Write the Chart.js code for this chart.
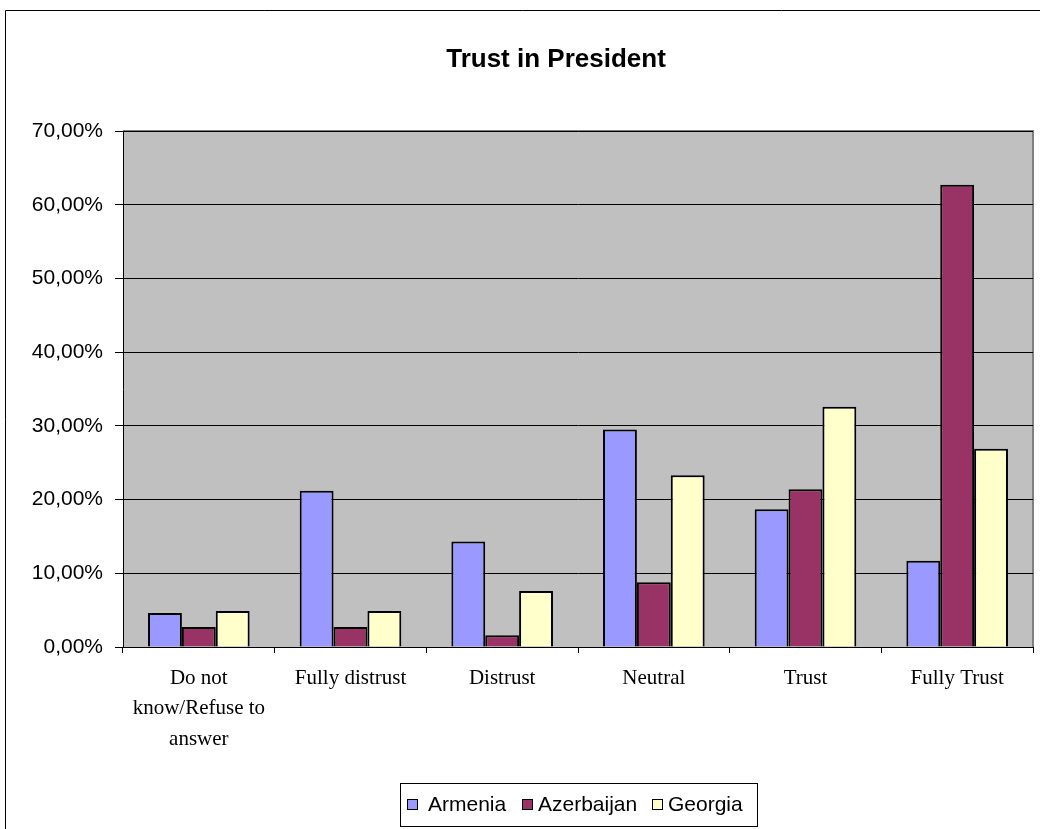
<!DOCTYPE html>
<html>
<head>
<meta charset="utf-8">
<script src="https://cdn.jsdelivr.net/npm/chart.js@4.4.1/dist/chart.umd.min.js"></script>
<style>
  html, body { margin: 0; padding: 0; background: #fff; }
  #wrap { width: 1040px; height: 829px; }
</style>
</head>
<body>
<div id="wrap"><canvas id="trustChart" width="1040" height="829"></canvas></div>
<script>
// values, in percent
const categories = [
    ["Do not", "know/Refuse to", "answer"],
    "Fully distrust",
    "Distrust",
    "Neutral",
    "Trust",
    "Fully Trust"
];
const armenia = [4.6, 21.2, 14.3, 29.5, 18.7, 11.7];
const azerbaijan = [2.7, 2.7, 1.6, 8.8, 21.4, 62.7];
const georgia = [4.9, 4.9, 7.6, 23.3, 32.6, 26.9];
const seriesNames = ["Armenia", "Azerbaijan", "Georgia"];
const seriesColors = ["#9999FF", "#993366", "#FFFFCC"];
const yTicks = [0, 10, 20, 30, 40, 50, 60, 70];

function fmtPct(v) {
    return v.toFixed(2).replace(".", ",") + "%";
}

// grey plot area, outer frame, title and the boxed legend
const excelLook = {
    id: "excelLook",
    beforeDraw(chart) {
        const ctx = chart.ctx;
        const a = chart.chartArea;
        ctx.save();
        ctx.fillStyle = "#fff";
        ctx.fillRect(0, 0, chart.width, chart.height);
        ctx.strokeStyle = "#000";
        ctx.lineWidth = 1;
        ctx.beginPath();
        ctx.moveTo(5.5, chart.height);
        ctx.lineTo(5.5, 10.5);
        ctx.lineTo(chart.width, 10.5);
        ctx.stroke();
        ctx.fillStyle = "#C0C0C0";
        ctx.fillRect(a.left, a.top, a.right - a.left, a.bottom - a.top);
        ctx.strokeStyle = "#808080";
        ctx.lineWidth = 2;
        ctx.beginPath();
        ctx.moveTo(a.left, a.top);
        ctx.lineTo(a.right, a.top);
        ctx.lineTo(a.right, a.bottom);
        ctx.stroke();
        ctx.restore();
    },
    afterDraw(chart) {
        const ctx = chart.ctx;
        ctx.save();
        ctx.fillStyle = "#000";
        ctx.font = "bold 26px 'Liberation Sans', Arial, sans-serif";
        ctx.textAlign = "center";
        ctx.textBaseline = "middle";
        ctx.fillText("Trust in President", 556, 60);

        // legend
        ctx.strokeStyle = "#000";
        ctx.lineWidth = 1;
        ctx.strokeRect(400.5, 783.5, 357, 43);
        ctx.font = "21px 'Liberation Sans', Arial, sans-serif";
        ctx.textAlign = "left";
        const boxX = [407, 522, 652];
        const textX = [428, 538, 668];
        chart.data.datasets.forEach((ds, i) => {
            ctx.fillStyle = ds.backgroundColor;
            ctx.fillRect(boxX[i], 799, 11, 11);
            ctx.strokeRect(boxX[i] + 0.5, 799.5, 10, 10);
            ctx.fillStyle = "#000";
            ctx.fillText(ds.label, textX[i], 805);
        });
        ctx.restore();
    }
};

const data = {
    labels: categories,
    datasets: [armenia, azerbaijan, georgia].map((vals, i) => ({
        label: seriesNames[i],
        data: vals,
        backgroundColor: seriesColors[i],
        borderColor: "#000",
        borderWidth: 2,
        borderSkipped: "bottom",
        categoryPercentage: 0.67,
        barPercentage: 1.0
    }))
};

new Chart(document.getElementById("trustChart"), {
    type: "bar",
    data,
    plugins: [excelLook],
    options: {
        responsive: false,
        animation: false,
        layout: { padding: { top: 131, right: 7, left: 0, bottom: 0 } },
        plugins: {
            legend: { display: false },
            title: { display: false },
            tooltip: { enabled: false }
        },
        scales: {
            x: {
                afterFit(scale) { scale.height = 182; },
                grid: {
                    offset: true,
                    drawOnChartArea: false,
                    drawTicks: true,
                    tickLength: 6,
                    color: "#000"
                },
                border: { color: "#000", width: 1 },
                ticks: {
                    color: "#000",
                    padding: 10,
                    maxRotation: 0,
                    autoSkip: false,
                    font: { family: "'Liberation Serif', 'Times New Roman', serif", size: 21, lineHeight: 1.45 }
                }
            },
            y: {
                min: 0,
                max: 70,
                afterFit(scale) { scale.width = 123; },
                afterBuildTicks(scale) {
                    scale.ticks = yTicks.map(v => ({ value: v }));
                },
                grid: {
                    color: "#000",
                    lineWidth: 1,
                    tickLength: 8,
                    drawTicks: true
                },
                border: { color: "#000", width: 1 },
                ticks: {
                    color: "#000",
                    padding: 12,
                    callback: v => fmtPct(v),
                    font: { family: "'Liberation Sans', Arial, sans-serif", size: 21 }
                }
            }
        }
    }
});
</script>
</body>
</html>
